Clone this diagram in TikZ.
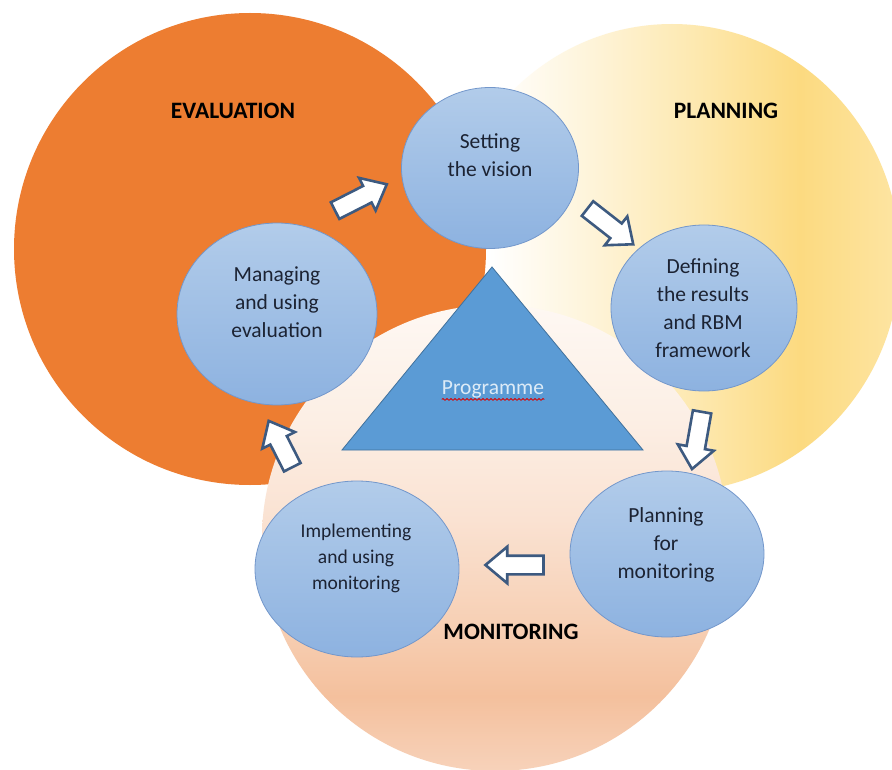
\documentclass[tikz,border=0pt]{standalone}
\usepackage{fontspec}
\setmainfont{Carlito}
\usetikzlibrary{shapes.geometric,shapes.arrows,decorations.pathmorphing}

\definecolor{evalorange}{HTML}{ED7D31}
\definecolor{plancream}{HTML}{FEF3D6}
\definecolor{planmid}{HTML}{FDE8AE}
\definecolor{planyellow}{HTML}{FCDA80}
\definecolor{planlight}{HTML}{FDE5A3}
\definecolor{montop}{HTML}{FEF8F3}
\definecolor{monlight}{HTML}{FCEFE5}
\definecolor{monpale}{HTML}{FAE2D2}
\definecolor{monmid}{HTML}{F7D0B5}
\definecolor{mondeep}{HTML}{F4C09D}
\definecolor{monbot}{HTML}{F7D2BA}
\definecolor{disctop}{HTML}{B2CCEA}
\definecolor{discbot}{HTML}{8DB2E0}
\definecolor{discedge}{HTML}{7397CB}
\definecolor{disctxt}{HTML}{1C2333}
\definecolor{progblue}{HTML}{5B9BD5}
\definecolor{progedge}{HTML}{41719C}
\definecolor{progtext}{HTML}{DDEBF7}
\definecolor{arrowedge}{HTML}{3D5A80}

\pgfdeclarehorizontalshading{planshade}{100bp}{color(0bp)=(white); color(30bp)=(white); color(42bp)=(plancream); color(53bp)=(planmid); color(64bp)=(planyellow); color(75bp)=(planlight); color(100bp)=(planlight)}
\pgfdeclareverticalshading{monshade}{100bp}{color(0bp)=(monbot); color(25bp)=(monbot); color(33bp)=(mondeep); color(41bp)=(monmid); color(52bp)=(monpale); color(63bp)=(monlight); color(75bp)=(montop); color(100bp)=(montop)}

\tikzset{
  cyclearrow/.style={single arrow, draw=arrowedge, line width=2.6pt, fill=white,
    inner xsep=0pt, inner ysep=8pt, minimum height=58pt,
    single arrow head extend=9pt, single arrow head indent=0pt,
    single arrow tip angle=80}
}

\begin{document}
\begin{tikzpicture}[x=1pt,y=-1pt,
  disc/.style={ellipse, draw=discedge, line width=0.8pt, top color=disctop, bottom color=discbot},
  disctext/.style={align=center, text=disctxt, font=\fontsize{21.5}{28}\selectfont},
  zonelabel/.style={text=black, font=\fontsize{23.5}{28}\selectfont\bfseries}]
\tikzstyle{every node}+=[inner sep=0pt]
\useasboundingbox (0,0) rectangle (892,770);
\clip (0,0) rectangle (892,770);
\fill[white] (0,0) rectangle (892,770);

\shade[shading=planshade] (672,258) ellipse [x radius=228, y radius=234];
\fill[evalorange] (250,249) circle [radius=236];
\shade[shading=monshade] (495,538) circle [radius=233];

\node[zonelabel] (evallbl) at (233,111) {EVALUATION};
\node[zonelabel] (planlbl) at (726,111) {PLANNING};
\node[zonelabel] (monlbl) at (511,632) {MONITORING};

\filldraw[fill=progblue, draw=progedge, line width=0.8pt] (492,267) -- (643,450) -- (342,450) -- cycle;
\node[text=progtext, font=\fontsize{21.5}{26}\selectfont] (prog) at (493,389) {Programme};
\draw[red!85!black, line width=0.8pt, decorate, decoration={snake, amplitude=0.9pt, segment length=4pt}]
  ([yshift=-1.5pt]prog.south west) -- ([yshift=-1.5pt]prog.south east);

\node[disc, minimum width=177, minimum height=161] (vision) at (490,168) {};
\node[disc, minimum width=186, minimum height=166] (results) at (704,308) {};
\node[disc, minimum width=194, minimum height=166] (planmon) at (667,554) {};
\node[disc, minimum width=204, minimum height=176] (implmon) at (357,569) {};
\node[disc, minimum width=200, minimum height=182] (manage) at (277,314) {};

\node[disctext] (visionlbl) at (490,155) {Setting\\the vision};
\node[disctext] (resultslbl) at (703,308) {Defining\\the results\\and RBM\\framework};
\node[disctext] (planmonlbl) at (666,545) {Planning\\for\\monitoring};
\node[disctext, font=\fontsize{19.5}{26}\selectfont] (impllbl) at (356,558) {Implementing\\and using\\monitoring};
\node[disctext] (managelbl) at (277,302) {Managing\\and using\\evaluation};

\node[cyclearrow, rotate=27] (toVision) at (356,200) {};
\node[cyclearrow, rotate=-38] (toResults) at (606,223) {};
\node[cyclearrow, rotate=-100] (toPlanmon) at (698,435) {};
\node[cyclearrow, rotate=180] (toImpl) at (520,565) {};
\node[cyclearrow, rotate=117, minimum height=52pt] (toManage) at (283,449) {};
\end{tikzpicture}
\end{document}
